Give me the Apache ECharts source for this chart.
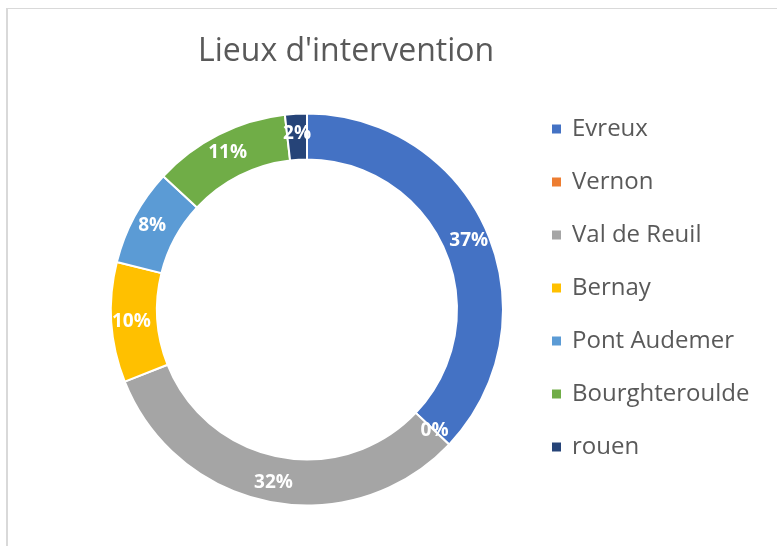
<!DOCTYPE html>
<html>
<head>
<meta charset="utf-8">
<script src="https://cdn.jsdelivr.net/npm/echarts@6/dist/echarts.min.js"></script>
<style>
  html, body { margin: 0; padding: 0; background: #fff; }
  #frame { position: absolute; left: 6px; top: 8px; width: 771px; height: 538px;
           border-left: 2px solid #d9d9d9; border-top: 1px solid #d9d9d9; box-sizing: border-box; }
  #chart { position: absolute; left: 0; top: 0; width: 777px; height: 546px; }
</style>
</head>
<body>
<div id="frame"></div>
<div id="chart"></div>
<script>
var titleText = "Lieux d'intervention";
var places = ['Evreux', 'Vernon', 'Val de Reuil', 'Bernay', 'Pont Audemer', 'Bourghteroulde', 'rouen'];
var shares = [37.1, 0, 31.9, 9.9, 8.0, 11.3, 1.8];
var colors = ['#4472C4', '#ED7D31', '#A5A5A5', '#FFC000', '#5B9BD5', '#70AD47', '#264478'];

var chartDom = document.getElementById('chart');
var pieChart = echarts.init(chartDom);

var option = {
  animation: false,
  color: colors,
  title: {
    text: titleText,
    left: 193,
    top: 31,
    textStyle: {
      fontFamily: 'Open Sans',
      fontSize: 32,
      fontWeight: 'normal',
      color: '#595959'
    }
  },
  legend: {
    orient: 'vertical',
    left: 545,
    top: 112,
    itemWidth: 11,
    itemHeight: 11,
    itemGap: 29,
    icon: 'rect',
    textStyle: {
      fontFamily: 'Open Sans',
      fontSize: 24,
      lineHeight: 24,
      color: '#595959',
      padding: [0, 0, 0, 5]
    },
    data: places
  },
  series: [{
    type: 'pie',
    center: [307, 309.5],
    radius: [150, 196],
    startAngle: 90,
    clockwise: true,
    avoidLabelOverlap: false,
    itemStyle: {
      borderColor: '#fff',
      borderWidth: 2
    },
    label: {
      position: 'inside',
      color: '#fff',
      fontFamily: 'Open Sans',
      fontWeight: 'bold',
      fontSize: 19,
      formatter: function (p) {
        return Math.round(p.percent) + '%';
      }
    },
    labelLine: { show: false },
    data: places.map(function (name, i) {
      return { name: name, value: shares[i] };
    })
  }]
};
pieChart.setOption(option);

window.addEventListener('resize', function () {
  pieChart.resize();
});
</script>
</body>
</html>
